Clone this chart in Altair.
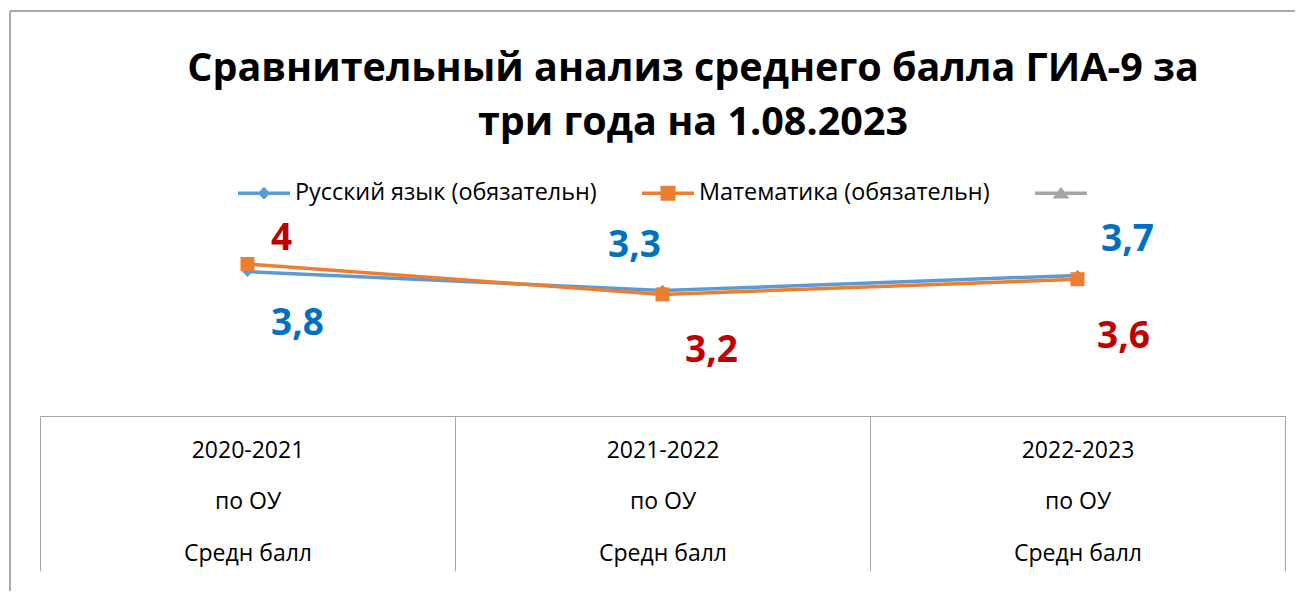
import json
import altair as alt
import pandas as pd

# ---------------- data ----------------
YEARS = ["2020-2021", "2021-2022", "2022-2023"]
SUB_LINES = ["по ОУ", "Средн балл"]
SERIES = ["Русский язык (обязательн)", "Математика (обязательн)", " "]
RUS = [3.8, 3.3, 3.7]
MATH = [4.0, 3.2, 3.6]
TITLE = ["Сравнительный анализ среднего балла ГИА-9 за", "три года на 1.08.2023"]

# ---------------- styles ----------------
LINE_COLORS = ["#5B9BD5", "#ED7D31", "#A5A5A5"]
LABEL_COLORS = ["#0070C0", "#C00000"]
GRID = "#A6A6A6"
FONT = "Open Sans"

# legend symbols: a line with the series marker on it (unit box -1..1)
BAR = "M-1,-0.065L1,-0.065L1,0.065L-1,0.065Z "
LEGEND_PATHS = [
    BAR + "M0,-0.25L0.24,0L0,0.25L-0.24,0Z",
    BAR + "M-0.29,-0.29L0.29,-0.29L0.29,0.29L-0.29,0.29Z",
    BAR + "M0,-0.25L0.32,0.2L-0.32,0.2Z",
]

# label offsets (dx, dy) per series per point
OFFSETS = [
    [(50, 63), (-28, -34), (50, -24)],
    [(34, -14), (49, 68), (46, 69)],
]

rows = []
for i, yr in enumerate(YEARS):
    rows.append({"year": yr, "series": SERIES[0], "v": RUS[i], "idx": i})
    rows.append({"year": yr, "series": SERIES[1], "v": MATH[i], "idx": i})
df = pd.DataFrame(rows)

label_expr = ("datum.label ? [datum.label, "
              + ", ".join(json.dumps(s, ensure_ascii=False) for s in SUB_LINES)
              + "] : ''")

x_enc = alt.X(
    "year:N",
    sort=YEARS,
    scale=alt.Scale(type="band", domain=YEARS, paddingInner=0, paddingOuter=0),
    axis=alt.Axis(
        title=None,
        labelExpr=label_expr,
        labelFont=FONT,
        labelFontSize=23,
        labelColor="black",
        labelLineHeight=51.5,
        labelPadding=-132,
        labelAngle=0,
        labelOverlap=False,
        labelFlush=False,
        labelLimit=0,
        tickSize=155,
        tickBand="extent",
        tickColor=GRID,
        tickWidth=1,
        domainColor=GRID,
        domainWidth=1,
        grid=False,
    ),
)
y_enc = alt.Y("v:Q", scale=alt.Scale(domain=[0, 5]), axis=None)

base = alt.Chart(df)
layers = []

# chart-area border (left and top edges visible in the crop)
one = alt.Data(values=[{}])
layers.append(
    alt.Chart(one).mark_rule(color="#A9A9A9", strokeWidth=2).encode(
        x=alt.value(-30), y=alt.value(-215), y2=alt.value(420)
    )
)
layers.append(
    alt.Chart(one).mark_rule(color="#A9A9A9", strokeWidth=2).encode(
        x=alt.value(-30), x2=alt.value(1300), y=alt.value(-215)
    )
)

# chart title (two lines)
layers.append(
    alt.Chart(alt.Data(values=[{"t": TITLE}])).mark_text(
        font=FONT, fontSize=39.5, fontWeight="bold", color="black",
        align="center", baseline="alphabetic", lineHeight=54,
    ).encode(x=alt.value(653), y=alt.value(-145), text="t:N")
)

shapes = ["diamond", "square"]
sizes = [120, 196]
for s in range(2):
    sub = base.transform_filter(alt.datum.series == SERIES[s])
    layers.append(
        sub.mark_line(strokeWidth=3.5, color=LINE_COLORS[s]).encode(x=x_enc, y=y_enc)
    )
    layers.append(
        sub.mark_point(shape=shapes[s], filled=True, opacity=1, size=sizes[s],
                       color=LINE_COLORS[s]).encode(x=x_enc, y=y_enc)
    )

for s in range(2):
    for i in range(3):
        dx, dy = OFFSETS[s][i]
        layers.append(
            base.transform_filter((alt.datum.series == SERIES[s]) & (alt.datum.idx == i))
            .transform_calculate(lab="replace(toString(datum.v), '.', ',')")
            .mark_text(font=FONT, fontSize=37, fontWeight="bold", color=LABEL_COLORS[s],
                       align="center", baseline="alphabetic", dx=dx, dy=dy)
            .encode(x=x_enc, y=y_enc, text="lab:N")
        )

# legend-only layer (no marks drawn)
leg = alt.Legend(
    title=None, orient="none", direction="horizontal", legendX=198, legendY=-59,
    labelFont=FONT, labelFontSize=23.4, labelColor="black", labelLimit=0,
    symbolSize=2704, symbolStrokeWidth=0, symbolOpacity=1, labelOffset=5,
    columnPadding=45, padding=0,
)
legend_df = pd.DataFrame({"series": SERIES})
layers.append(
    alt.Chart(legend_df).transform_filter("false").mark_point(filled=True, opacity=1).encode(
        color=alt.Color("series:N", scale=alt.Scale(domain=SERIES, range=LINE_COLORS), legend=leg, sort=SERIES),
        shape=alt.Shape("series:N", scale=alt.Scale(domain=SERIES, range=LEGEND_PATHS), legend=leg, sort=SERIES),
    )
)

chart = alt.layer(*layers).properties(
    width=1245,
    height=190,
    autosize=alt.AutoSizeParams(type="none"),
    padding={"left": 32, "top": 218, "right": 10, "bottom": 175},
    background="white",
).configure_view(stroke=None)

chart.save("out.html", embed_options={"renderer": "svg", "actions": False})
